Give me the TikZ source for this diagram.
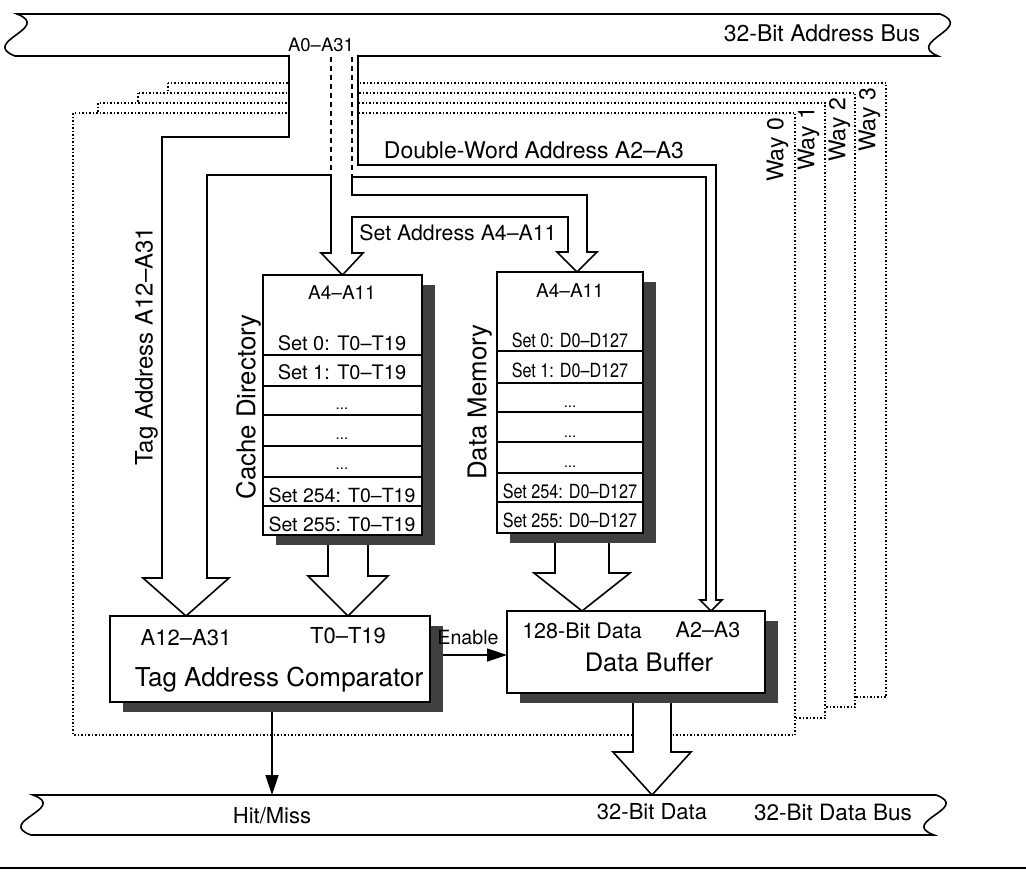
\documentclass[tikz,border=0pt]{standalone}
\usepackage{fontspec}
\setmainfont{TeX Gyre Heros}
\newfontfamily\condfont[FakeStretch=0.83]{TeX Gyre Heros}
\usetikzlibrary{calc,shadows,arrows.meta}
\newcommand\fsz[1]{\fontsize{#1}{#1}\selectfont}
\pgfdeclarelayer{back}
\pgfdeclarelayer{mid}
\pgfsetlayers{back,mid,main}
% hollow block arrow pointing down: #1 shaft top, #2 tip, #3 shaft half width, #4 head half width, #5 head length
\newcommand\hollowdown[5]{%
  \filldraw[hollow] let \p1=(#1), \p2=(#2) in
    (\x2-#3pt,\y1) -- (\x2-#3pt,\y2+#5pt) -- (\x2-#4pt,\y2+#5pt) -- (\p2)
    -- (\x2+#4pt,\y2+#5pt) -- (\x2+#3pt,\y2+#5pt) -- (\x2+#3pt,\y1);}
\begin{document}
\begin{tikzpicture}[x=1pt,y=-1pt,
  lb/.style={font=\fsz{#1}, inner sep=0pt,
    /utils/exec={\pgfmathsetlengthmacro\capht{0.72*#1}},
    text height=\capht, text depth=0pt},
  cond/.style={font=\condfont\fsz{#1}, inner sep=0pt,
    /utils/exec={\pgfmathsetlengthmacro\capht{0.72*#1}},
    text height=\capht, text depth=0pt},
  dots/.style={font=\fsz{15}, inner sep=0pt, anchor=base},
  wire/.style={line width=1.6pt, line join=miter},
  hollow/.style={wire, fill=white},
  wayframe/.style={line width=1.7pt, dash pattern=on 1.5pt off 2pt, fill=white},
  busshape/.style={wire, fill=white},
  box/.style={draw, line width=1.6pt, fill=white, inner sep=0pt, outer sep=0pt,
    general shadow={fill=black!75, shadow xshift=13pt, shadow yshift=-10pt}},
  arr/.style={-{Triangle[length=20pt,width=13pt]}}
]
\useasboundingbox (0,0) rectangle (1026,875);

% ---------- functional blocks ----------
\node[box, minimum width=159pt, minimum height=260pt] (cache) at (342.5,405) {};
\node[box, minimum width=146pt, minimum height=261pt] (mem) at (570,402.5) {};
\node[box, minimum width=320pt, minimum height=86pt] (comp) at (270,659) {};
\node[box, minimum width=258pt, minimum height=82pt] (buf) at (636,652) {};

% cache directory rows
\foreach \y in {355,386,415,446,477,506}
  \draw[line width=1.5pt] (cache.west |- 0,\y) -- (cache.east |- 0,\y);
\node[lb=19] (cdh) at (342,293) {A4–A11};
\node[lb=20] (cd0) at (342,343) {Set 0: T0–T19};
\node[lb=20] (cd1) at (342,372) {Set 1: T0–T19};
\node[dots] (cdd1) at (342,409) {...};
\node[dots] (cdd2) at (342,439) {...};
\node[dots] (cdd3) at (342,469) {...};
\node[lb=19.5] (cd254) at (342,495) {Set 254: T0–T19};
\node[lb=19.5] (cd255) at (342,524) {Set 255: T0–T19};

% data memory rows
\foreach \y in {351,383,412,442,473,502}
  \draw[line width=1.5pt] (mem.west |- 0,\y) -- (mem.east |- 0,\y);
\node[lb=19] (dmh) at (570,291) {A4–A11};
\node[cond=19.5] (dm0) at (570,340) {Set 0: D0–D127};
\node[cond=19.5] (dm1) at (570,370) {Set 1: D0–D127};
\node[dots] (dmd1) at (570,407) {...};
\node[dots] (dmd2) at (570,437) {...};
\node[dots] (dmd3) at (570,467) {...};
\node[cond=19.5] (dm254) at (570,491) {Set 254: D0–D127};
\node[cond=19.5] (dm255) at (570,520) {Set 255: D0–D127};

% comparator and buffer texts
\node[lb=22] (lblA) at (186,638) {A12–A31};
\node[lb=22] (lblT) at (348,636) {T0–T19};
\node[lb=26] (cmpt) at (279,677) {Tag Address Comparator};
\node[lb=21.5] (lbl128) at (582,631) {128-Bit Data};
\node[lb=21.5] (lblA23) at (708,630) {A2–A3};
\node[lb=25.5] (buft) at (649,662) {Data Buffer};
\node[lb=19.6] (enl) at (468,637) {Enable};

% bus texts
\node[lb=18.5] (a031) at (321,45) {A0–A31};
\node[lb=23] (abus) at (822,33) {32-Bit Address Bus};
\coordinate (lblHit) at (272,816);
\coordinate (lbl32) at (652,812);
\coordinate (dbl) at (833,812);

% path labels
\node[lb=23] (dwl) at (534,150) {Double-Word Address A2–A3};
\node[lb=21.3] (sal) at (458,233) {Set Address A4–A11};
\node[lb=24, rotate=90] (tal) at (144,346) {Tag Address A12–A31};
\node[lb=25.8, rotate=90] (cdl) at (246,407) {Cache Directory};
\node[lb=25.8, rotate=90] (dml) at (477,402) {Data Memory};

\coordinate (dbtop) at (0,795);
\coordinate (tagtip) at (lblA |- comp.north);
\coordinate (memtip) at ($(mem.north)+(7,0)$);
\coordinate (dwtip) at ($(buf.north)+(75,0)$);

% ---------- the four ways ----------
\begin{pgfonlayer}{back}
  \fill[white] (0,0) rectangle (1026,875);
  \draw[wayframe] (168,83) rectangle (886,697);
  \draw[wayframe] (138,93) rectangle (855,707);
  \draw[wayframe] (98,103) rectangle (825,718);
  \draw[wayframe] (73,113) rectangle (795,735);
  \node[lb=23, rotate=90] (w0) at (775,150) {Way 0};
  \node[lb=23, rotate=90] (w1) at (806,139) {Way 1};
  \node[lb=23, rotate=90] (w2) at (837,130) {Way 2};
  \node[lb=23, rotate=90] (w3) at (867,120) {Way 3};
\end{pgfonlayer}

% ---------- address bus and address paths ----------
\begin{pgfonlayer}{mid}
  \draw[busshape] (17,14) -- (940,14) .. controls (976,28) and (904,42) .. (938,56)
    -- (15,56) .. controls (-21,42) and (53,28) .. (17,14) -- cycle;
  \filldraw[hollow] (289,55) -- (289,137) -- (162,137) -- (162,578) -- (143,578)
    -- (tagtip) -- (229,578) -- (207,578) -- (207,175) -- (331,175) -- (331,253)
    -- (321,253) -- (cache.north) -- (363,253) -- (352,253) -- (352,217)
    -- (568,217) -- (568,252) -- (557,252) -- (memtip) -- (597,252) -- (587,252)
    -- (587,195) -- (352,195) -- (352,177) -- (706,177) -- (706,600) -- (700,600)
    -- (dwtip) -- (722,600) -- (716,600) -- (716,165) -- (358,165) -- (358,55);
  \draw[wire, dash pattern=on 5pt off 4pt] (331,57) -- (331,175);
  \draw[wire, dash pattern=on 5pt off 4pt] (352,57) -- (352,177);

  % data paths
  \hollowdown{lblT |- cache.south}{lblT |- comp.north}{20}{40}{40}
  \hollowdown{lbl128 |- mem.south}{lbl128 |- buf.north}{27}{48}{38}
  \hollowdown{lbl32 |- buf.south}{lbl32 |- dbtop}{19}{39}{43}

  % control signals
  \draw[wire, arr] (comp.south -| lblHit) -- (lblHit |- dbtop);
  \coordinate (en) at ($(comp.east)+(0,-4)$);
  \draw[wire, arr] (en) -- (en -| buf.west);
\end{pgfonlayer}

% ---------- data bus ----------
\draw[busshape] (33,795) -- (936,795) .. controls (972,808) and (898,822) .. (934,835)
  -- (31,835) .. controls (-5,822) and (69,808) .. (33,795) -- cycle;
\node[lb=22] (hit) at (lblHit) {Hit/Miss};
\node[lb=22] (d32) at (lbl32) {32-Bit Data};
\node[lb=22.5] (d32bus) at (dbl) {32-Bit Data Bus};

\draw[line width=1.6pt] (0,868) -- (1026,868);
\end{tikzpicture}
\end{document}
